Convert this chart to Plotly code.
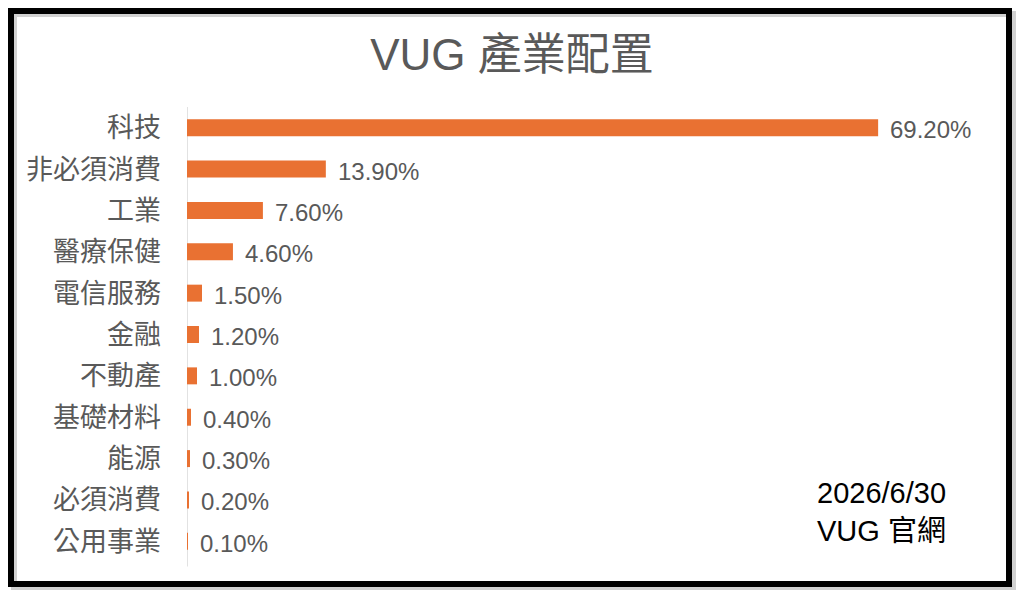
import plotly.graph_objects as go

# sector weights (%), top to bottom as shown
sectors = ["科技", "非必須消費", "工業", "醫療保健", "電信服務", "金融",
           "不動產", "基礎材料", "能源", "必須消費", "公用事業"]
weights = [69.2, 13.9, 7.6, 4.6, 1.5, 1.2, 1.0, 0.4, 0.3, 0.2, 0.1]

title_text = "VUG 產業配置"
note_lines = ["2026/6/30", "VUG 官網"]

# the page body adds an 8px margin, so the figure is drawn 8px smaller
OFF = 8
W, H = 1024 - 2 * OFF, 598 - 2 * OFF
M_L, M_R, M_T, M_B = 187 - OFF, W - (986 - OFF), 107 - OFF, H - (562 - OFF)
FONT = "Liberation Sans, Arial, Noto Sans CJK TC, sans-serif"
GREY = "#595959"
ORANGE = "#E97132"


def px_to_paper(px, py):
    # screen pixel -> paper coords
    px, py = px - OFF, py - OFF
    pw = W - M_L - M_R
    ph = H - M_T - M_B
    return (px - M_L) / pw, (H - M_B - py) / ph


fig = go.Figure(
    go.Bar(
        x=weights,
        y=sectors,
        orientation="h",
        marker=dict(color=ORANGE, line=dict(width=0)),
        hoverinfo="skip",
    )
)

# value labels just right of each bar end
for s, v in zip(sectors, weights):
    fig.add_annotation(
        x=v, y=s, xref="x", yref="y",
        text=f"{v:.2f}%", showarrow=False,
        xanchor="left", yanchor="middle", xshift=10, yshift=-2,
        font=dict(family=FONT, size=24, color=GREY),
    )

# date / source note
nx, ny = px_to_paper(815, 512)
fig.add_annotation(
    x=nx, y=ny, xref="paper", yref="paper",
    text="<br>".join(note_lines), showarrow=False,
    xanchor="left", yanchor="middle", align="left",
    font=dict(family=FONT, size=29, color="black"),
)

# picture frame with a soft shadow
x0, y0 = px_to_paper(14, 589)
x1, y1 = px_to_paper(1013, 14)
fig.add_shape(type="rect", xref="paper", yref="paper",
              x0=x0, y0=y0, x1=x1, y1=y1,
              line=dict(color="rgba(0,0,0,0.18)", width=6), layer="below")
x0, y0 = px_to_paper(11, 584)
x1, y1 = px_to_paper(1009, 11)
fig.add_shape(type="rect", xref="paper", yref="paper",
              x0=x0, y0=y0, x1=x1, y1=y1,
              line=dict(color="black", width=6), layer="above")

fig.update_layout(
    width=W, height=H,
    margin=dict(l=M_L, r=M_R, t=M_T, b=M_B),
    paper_bgcolor="white", plot_bgcolor="white",
    bargap=0.59,
    showlegend=False,
    title=dict(text=title_text, x=0.5, xref="container", xanchor="center",
               y=1 - (55 - OFF) / H, yanchor="middle",
               font=dict(family=FONT, size=44, color=GREY)),
    xaxis=dict(range=[0, 80], visible=False, fixedrange=True),
    yaxis=dict(
        autorange="reversed",
        showgrid=False, zeroline=False,
        showline=False, ticks="",
        ticklabelstandoff=25,
        tickfont=dict(family=FONT, size=27, color=GREY),
        fixedrange=True,
    ),
)

# category axis line at zero
fig.add_shape(type="line", xref="x", yref="paper",
              x0=0, x1=0, y0=-0.01, y1=1,
              line=dict(color="#D9D9D9", width=1.5), layer="below")

fig.write_html("out.html")
